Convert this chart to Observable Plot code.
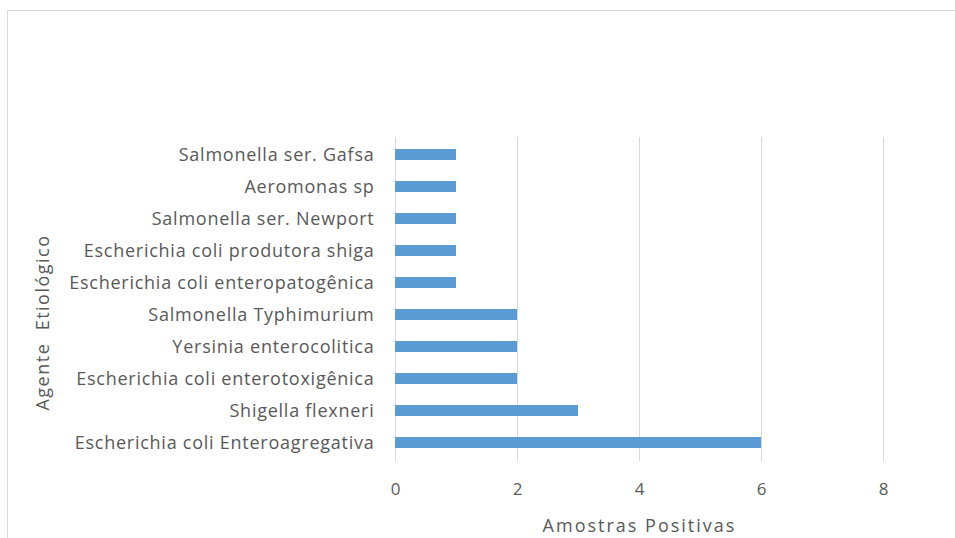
<!DOCTYPE html>
<html>
<head>
<meta charset="utf-8">
<script src="https://cdn.jsdelivr.net/npm/d3@7"></script>
<script src="https://cdn.jsdelivr.net/npm/@observablehq/plot@0.6"></script>
<style>
  html, body { margin: 0; padding: 0; background: #fff; overflow: hidden; }
  #frame { position: absolute; left: 7px; top: 10px; width: 1000px; height: 1000px; border: 1px solid #d9d9d9; pointer-events: none; }
  #chart { position: absolute; left: 0; top: 0; }
  #chart svg g[aria-label="y-axis tick label"] text { letter-spacing: 0.75px; }
</style>
</head>
<body>
<div id="frame"></div>
<div id="chart"></div>
<script>
const categories = [
  "Salmonella ser. Gafsa",
  "Aeromonas sp",
  "Salmonella ser. Newport",
  "Escherichia coli produtora shiga",
  "Escherichia coli enteropatogênica",
  "Salmonella Typhimurium",
  "Yersinia enterocolitica",
  "Escherichia coli enterotoxigênica",
  "Shigella flexneri",
  "Escherichia coli Enteroagregativa"
];
const values = [1, 1, 1, 1, 1, 2, 2, 2, 3, 6];
const xTicks = [0, 2, 4, 6, 8];
const xTitle = "Amostras Positivas";
const yTitle = "Agente  Etiológico";

const data = categories.map((c, i) => ({agent: c, count: values[i]}));
const textColor = "#595959";

const chart = Plot.plot({
  width: 955,
  height: 538,
  marginLeft: 395,
  marginRight: 72,
  marginTop: 137,
  marginBottom: 77,
  style: {fontFamily: "'Open Sans', sans-serif", fontSize: "18px", color: textColor, background: "transparent"},
  x: {domain: [0, 8], ticks: xTicks, label: null},
  y: {domain: categories, paddingInner: 0.656, paddingOuter: 0.385, label: null},
  marks: [
    Plot.gridX(xTicks, {stroke: "#d9d9d9", strokeOpacity: 1, strokeWidth: 1}),
    Plot.barX(data, {x: "count", y: "agent", fill: "#5b9bd5"}),
    Plot.axisX({ticks: xTicks, tickSize: 0, tickPadding: 21, label: null, fill: textColor, fontSize: 17}),
    Plot.axisY({tickSize: 0, tickPadding: 21, label: null, fill: textColor}),
    Plot.text([xTitle], {frameAnchor: "bottom", dy: 65, lineAnchor: "middle", textAnchor: "middle", text: d => d, fill: textColor, fontSize: 18}),
    Plot.text([yTitle], {frameAnchor: "left", dx: -352, dy: 23, rotate: -90, lineAnchor: "middle", textAnchor: "middle", text: d => d, fill: textColor, fontSize: 18})
  ]
});
chart.querySelectorAll("text").forEach(t => {
  if (t.textContent === xTitle) {
    t.style.letterSpacing = "2px";
  } else if (t.textContent === yTitle) {
    t.style.letterSpacing = "1.5px";
    t.setAttribute("xml:space", "preserve");
    t.style.whiteSpace = "pre";
  }
});
document.getElementById("chart").appendChild(chart);
</script>
</body>
</html>
